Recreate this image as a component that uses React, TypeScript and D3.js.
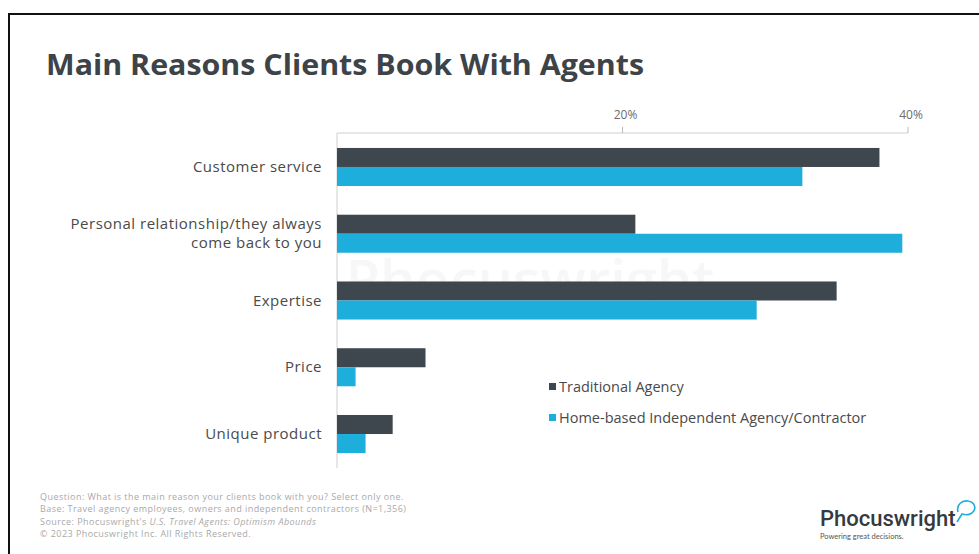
import React from "react";
import * as d3 from "d3";

const categories = [
  "Customer service",
  "Personal relationship/they always come back to you",
  "Expertise",
  "Price",
  "Unique product",
];
const categoryLines: string[][] = [
  ["Customer service"],
  ["Personal relationship/they always", "come back to you"],
  ["Expertise"],
  ["Price"],
  ["Unique product"],
];
const seriesNames = ["Traditional Agency", "Home-based Independent Agency/Contractor"];
const traditional = [38, 20.9, 35, 6.2, 3.9];
const homeBased = [32.6, 39.6, 29.4, 1.3, 2.0];
const tickValues = [20, 40];
const footnotes = [
  "Question: What is the main reason your clients book with you? Select only one.",
  "Base: Travel agency employees, owners and independent contractors (N=1,356)",
];
const sourcePrefix = "Source: Phocuswright's ";
const sourceTitle = "U.S. Travel Agents: Optimism Abounds";
const copyright = "© 2023 Phocuswright Inc. All Rights Reserved.";

const DARK = "#3f474e";
const BLUE = "#1eaedb";
const FONT = "'Open Sans', Lato, sans-serif";

export default function App() {
  const W = 979;
  const H = 554;
  const x = d3.scaleLinear().domain([0, 40]).range([337, 908]);
  const y = d3
    .scaleBand<string>()
    .domain(categories)
    .range([133.6, 467.4])
    .paddingInner(0.43)
    .paddingOuter(0.215);
  const sub = d3.scaleBand<string>().domain(seriesNames).range([0, y.bandwidth()]);
  const colors = d3.scaleOrdinal<string, string>().domain(seriesNames).range([DARK, BLUE]);
  const data = categories.map((c, i) => ({ c, vals: [traditional[i], homeBased[i]] }));
  const fnY = (i: number) => 500 + i * 12.4;

  return (
    <svg
      width={W}
      height={H}
      style={{ position: "absolute", left: 0, top: 0, background: "#fff" }}
      fontFamily={FONT}
    >
      <rect x={0} y={0} width={W} height={H} fill="#fff" />
      {/* frame */}
      <line x1={8} y1={14} x2={W} y2={14} stroke="#111" strokeWidth={2} />
      <line x1={9} y1={14} x2={9} y2={H} stroke="#111" strokeWidth={2} />

      {/* watermark */}
      <text x={530} y={300} textAnchor="middle" fontSize={56} fontWeight={600} fill="#f7f7f7">
        Phocuswright
      </text>

      {/* title */}
      <text x={46} y={75} fontSize={29} fontWeight={700} fill="#3d4347" textLength={598} lengthAdjust="spacingAndGlyphs">
        Main Reasons Clients Book With Agents
      </text>

      {/* axes */}
      <line x1={x(0)} y1={133} x2={x(40)} y2={133} stroke="#cfcfcf" strokeWidth={1} />
      <line x1={x(0)} y1={133} x2={x(0)} y2={468} stroke="#cfcfcf" strokeWidth={1} />
      {tickValues.map((t) => (
        <g key={t}>
          <line x1={x(t)} y1={127} x2={x(t)} y2={133} stroke="#bdbdbd" />
          <text x={x(t) + 3} y={119} textAnchor="middle" fontSize={12} fill="#6b6b6b">
            {t}%
          </text>
        </g>
      ))}

      {/* bars */}
      {data.map((d) => (
        <g key={d.c} transform={`translate(0,${y(d.c)})`}>
          {d.vals.map((v, j) => (
            <rect
              key={j}
              x={x(0)}
              y={sub(seriesNames[j])}
              width={x(v) - x(0)}
              height={sub.bandwidth()}
              fill={colors(seriesNames[j])}
            />
          ))}
        </g>
      ))}

      {/* category labels */}
      {categories.map((c, i) => {
        const lines = categoryLines[i];
        const cy = (y(c) as number) + y.bandwidth() / 2;
        const lh = 18.5;
        return (
          <g key={c}>
            {lines.map((l, k) => (
              <text
                key={k}
                x={322}
                y={cy + (k - (lines.length - 1) / 2) * lh + 5}
                textAnchor="end"
                fontSize={15}
                letterSpacing={0.5}
                fill="#4a4a4a"
              >
                {l}
              </text>
            ))}
          </g>
        );
      })}

      {/* legend */}
      {seriesNames.map((s, i) => (
        <g key={s} transform={`translate(549,${387 + i * 31})`}>
          <rect x={0} y={-4} width={7} height={7} fill={colors(s)} />
          <text x={10} y={4.5} fontSize={14.5} fill="#4a4a4a">
            {s}
          </text>
        </g>
      ))}

      {/* footnotes */}
      <g fontSize={9} letterSpacing={0.45} fill="#a9a9a9">
        {footnotes.map((f, i) => (
          <text key={i} x={40} y={fnY(i)}>
            {f}
          </text>
        ))}
        <text x={40} y={fnY(2)}>
          {sourcePrefix}
          <tspan fontStyle="italic">{sourceTitle}</tspan>
        </text>
        <text x={40} y={fnY(3)}>
          {copyright}
        </text>
      </g>

      {/* logo */}
      <text x={820} y={526} fontSize={22} fontWeight={500} fill="#353a3e" fontFamily="Roboto, sans-serif">
        Phocuswright
      </text>
      <text x={820} y={539} fontSize={7.5} fill="#555" fontFamily="Lato, sans-serif">
        Powering great decisions.
      </text>
      <path
        d="M958,512 C956,505 962,500 968,501 C975,502 977,509 972,513 C969,515 965,515 962,514 L957,522"
        fill="none"
        stroke={BLUE}
        strokeWidth={1.6}
      />
    </svg>
  );
}
